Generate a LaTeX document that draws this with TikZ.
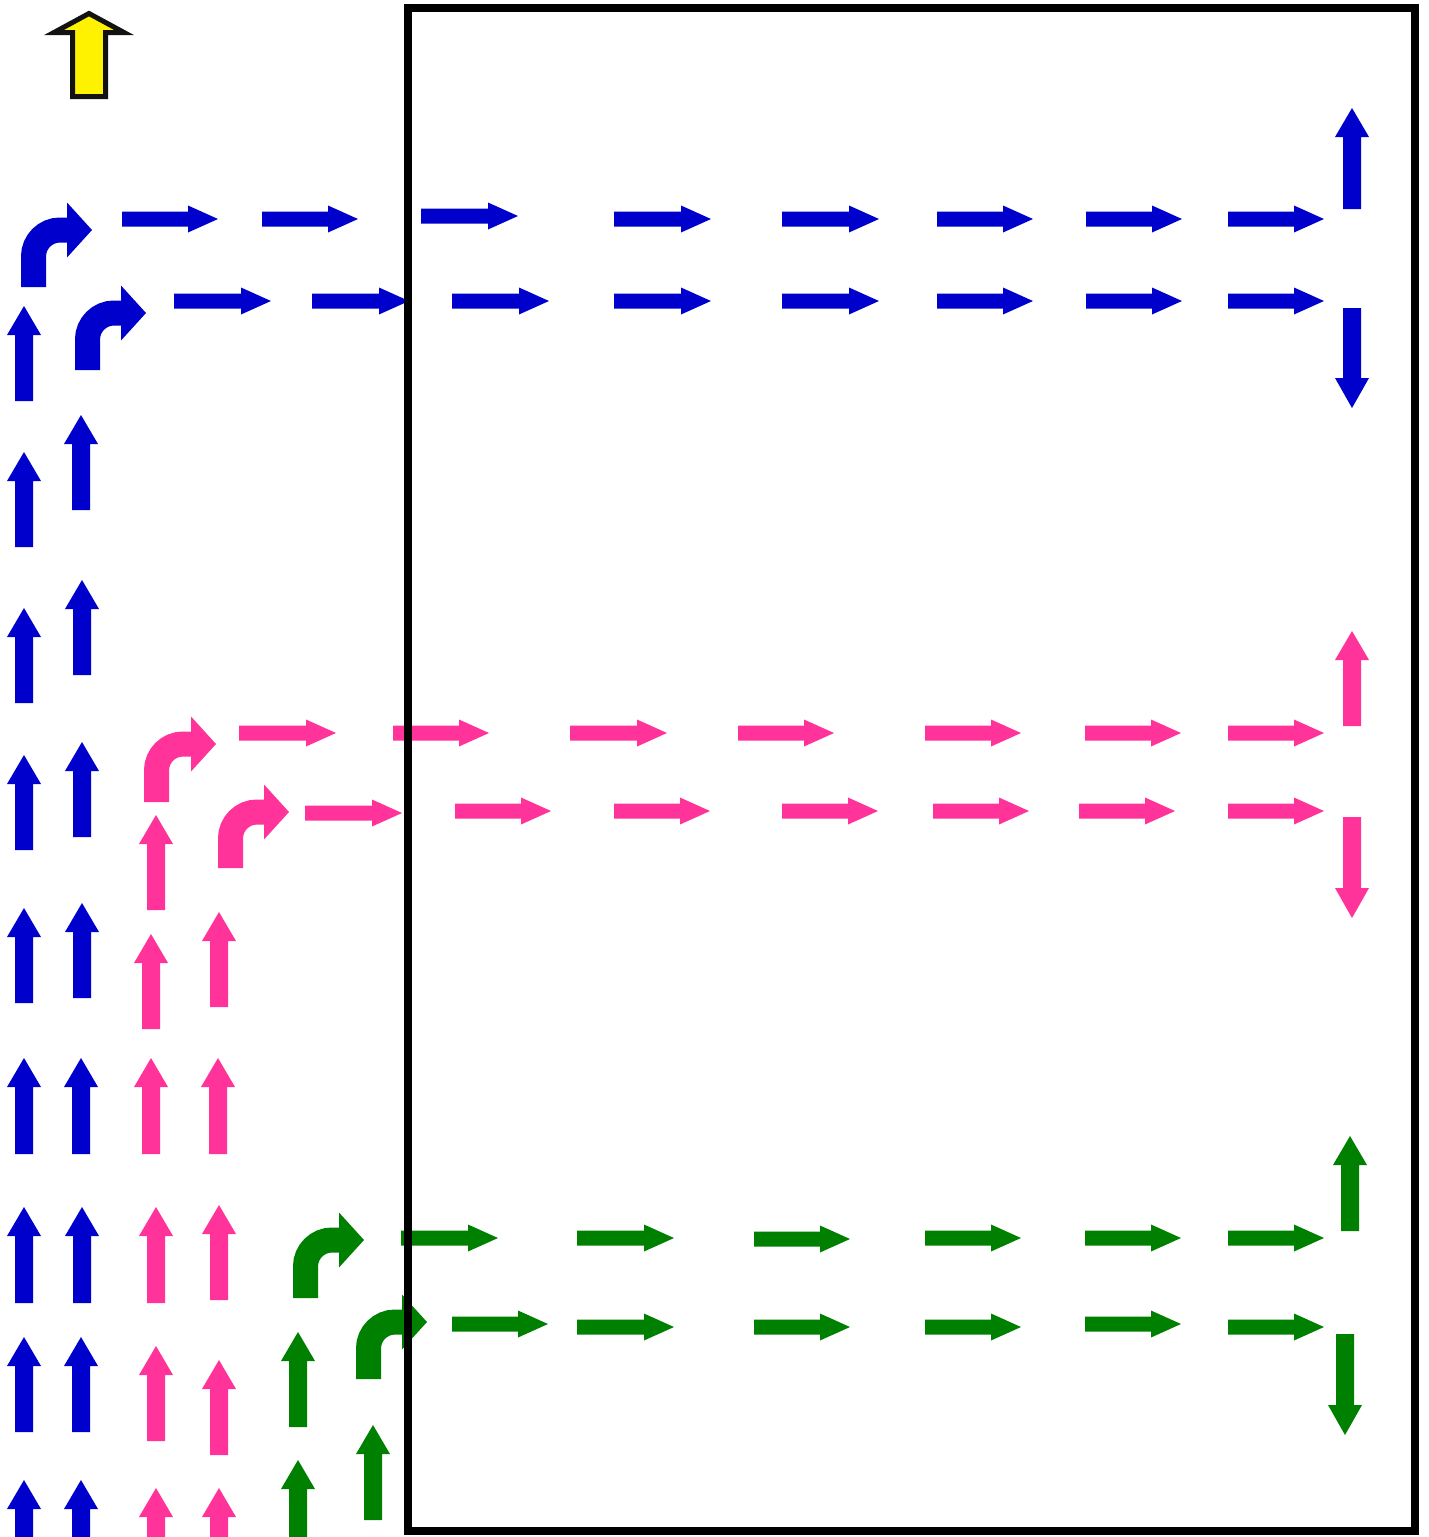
\documentclass[tikz,border=0pt]{standalone}
\definecolor{ablue}{RGB}{0,0,204}
\definecolor{apink}{RGB}{255,51,153}
\definecolor{agreen}{RGB}{0,128,0}
% horizontal arrow: colour, x start, x tip, y
\newcommand{\HA}[4]{\fill[#1] ({#2},{#4-7.5}) -- ({#3-30},{#4-7.5}) -- ({#3-30},{#4-13.5}) -- ({#3},{#4}) -- ({#3-30},{#4+13.5}) -- ({#3-30},{#4+7.5}) -- ({#2},{#4+7.5}) -- cycle;}
% up arrow: colour, x, y tip, y bottom
\newcommand{\UA}[4]{\fill[#1] ({#2-9},{#4}) -- ({#2-9},{#3+29}) -- ({#2-17},{#3+29}) -- ({#2},{#3}) -- ({#2+17},{#3+29}) -- ({#2+9},{#3+29}) -- ({#2+9},{#4}) -- cycle;}
% down arrow: colour, x, y top, y tip
\newcommand{\DA}[4]{\fill[#1] ({#2-9},{#3}) -- ({#2-9},{#4-30}) -- ({#2-17},{#4-30}) -- ({#2},{#4}) -- ({#2+17},{#4-30}) -- ({#2+9},{#4-30}) -- ({#2+9},{#3}) -- cycle;}
% bent arrow: colour, shaft left x, shaft bottom y, tip x, tip y
\newcommand{\BA}[5]{\draw[#1, line width=25pt, rounded corners=26.5pt] ({#2+12.5},{#3}) -- ({#2+12.5},{#5}) -- ({#4-24},{#5});
\fill[#1] ({#4-25},{#5-27.5}) -- ({#4},{#5}) -- ({#4-25},{#5+27.5}) -- cycle;}
\begin{document}
\begin{tikzpicture}[x=1pt,y=-1pt]
\useasboundingbox (0,0) rectangle (1429,1537);
\clip (0,0) rectangle (1429,1537);
% yellow north arrow
\filldraw[fill=yellow, draw=black!93, line width=5pt, line join=miter, miter limit=10]
  (89,13.5) -- (124,32.5) -- (105.5,32.5) -- (105.5,96.5) -- (72.5,96.5) -- (72.5,32.5) -- (54,32.5) -- cycle;
% ---------- blue ----------
\BA{ablue}{21}{287}{92}{230}
\BA{ablue}{75}{370}{146}{313}
\HA{ablue}{122}{218}{219}
\HA{ablue}{262}{358}{219}
\HA{ablue}{421}{518}{216}
\HA{ablue}{614}{711}{219}
\HA{ablue}{782}{879}{219}
\HA{ablue}{937}{1033}{219}
\HA{ablue}{1086}{1182}{219}
\HA{ablue}{1228}{1324}{219}
\HA{ablue}{174}{271}{301}
\HA{ablue}{312}{409}{301}
\HA{ablue}{452}{549}{301}
\HA{ablue}{614}{711}{301}
\HA{ablue}{782}{879}{301}
\HA{ablue}{937}{1033}{301}
\HA{ablue}{1086}{1182}{301}
\HA{ablue}{1228}{1324}{301}
\UA{ablue}{1352}{108}{209}
\DA{ablue}{1352}{308}{408}
\UA{ablue}{24}{306}{401}
\UA{ablue}{24}{452}{547}
\UA{ablue}{24}{608}{703}
\UA{ablue}{24}{755}{850}
\UA{ablue}{24}{908}{1003}
\UA{ablue}{24}{1058}{1154}
\UA{ablue}{24}{1207}{1303}
\UA{ablue}{24}{1337}{1432}
\UA{ablue}{24}{1480}{1575}
\UA{ablue}{81}{415}{510}
\UA{ablue}{82}{580}{675}
\UA{ablue}{82}{742}{837}
\UA{ablue}{82}{903}{998}
\UA{ablue}{81}{1058}{1154}
\UA{ablue}{82}{1207}{1303}
\UA{ablue}{81}{1337}{1432}
\UA{ablue}{81}{1480}{1575}
% ---------- pink ----------
\BA{apink}{144}{802}{216}{744}
\BA{apink}{218}{868}{289}{812}
\HA{apink}{239}{336}{733}
\HA{apink}{393}{489}{733}
\HA{apink}{570}{667}{733}
\HA{apink}{738}{834}{733}
\HA{apink}{925}{1021}{733}
\HA{apink}{1085}{1181}{733}
\HA{apink}{1228}{1324}{733}
\HA{apink}{305}{402}{813}
\HA{apink}{455}{551}{811}
\HA{apink}{614}{710}{811}
\HA{apink}{782}{878}{811}
\HA{apink}{933}{1029}{811}
\HA{apink}{1079}{1175}{811}
\HA{apink}{1228}{1324}{811}
\UA{apink}{1352}{631}{726}
\DA{apink}{1352}{817}{918}
\UA{apink}{156}{815}{910}
\UA{apink}{151}{934}{1029}
\UA{apink}{151}{1058}{1154}
\UA{apink}{156}{1207}{1303}
\UA{apink}{156}{1346}{1441}
\UA{apink}{156}{1488}{1580}
\UA{apink}{219}{912}{1007}
\UA{apink}{218}{1058}{1154}
\UA{apink}{219}{1205}{1300}
\UA{apink}{219}{1360}{1455}
\UA{apink}{219}{1488}{1580}
% ---------- green ----------
\BA{agreen}{293}{1298}{364}{1240}
\BA{agreen}{356}{1379}{427}{1322}
\HA{agreen}{401}{498}{1238}
\HA{agreen}{577}{674}{1238}
\HA{agreen}{754}{850}{1239}
\HA{agreen}{925}{1021}{1238}
\HA{agreen}{1085}{1181}{1238}
\HA{agreen}{1228}{1324}{1238}
\HA{agreen}{452}{548}{1324}
\HA{agreen}{577}{674}{1327}
\HA{agreen}{754}{850}{1327}
\HA{agreen}{925}{1021}{1327}
\HA{agreen}{1085}{1181}{1324}
\HA{agreen}{1228}{1324}{1327}
\UA{agreen}{1350}{1136}{1231}
\DA{agreen}{1345}{1334}{1435}
\UA{agreen}{298}{1332}{1427}
\UA{agreen}{298}{1460}{1560}
\UA{agreen}{373}{1425}{1520}
% ---------- frame ----------
\draw[black, line width=8pt] (407.5,7.5) rectangle (1415,1531);
\end{tikzpicture}
\end{document}
